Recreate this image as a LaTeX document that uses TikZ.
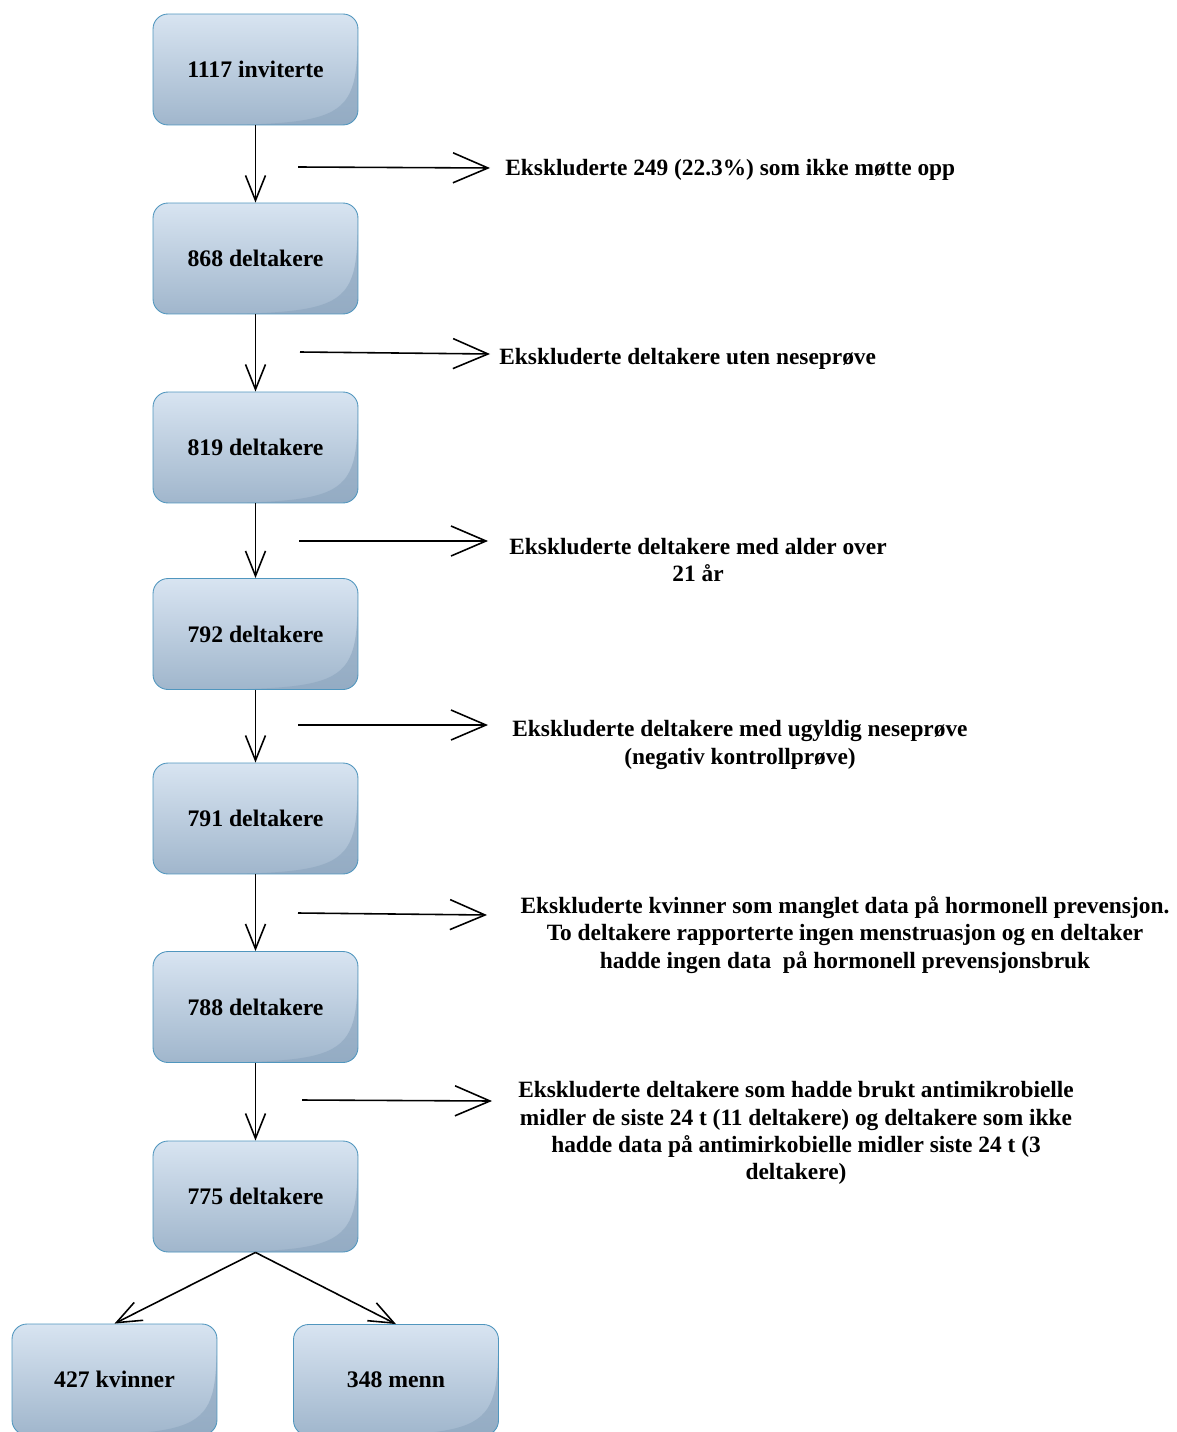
\documentclass[tikz,border=0pt]{standalone}
\usepackage{fontspec}
\setmainfont{Liberation Serif}
\usetikzlibrary{arrows.meta,calc}

\definecolor{boxtop}{RGB}{216,228,241}
\definecolor{boxbot}{RGB}{160,182,204}
\definecolor{boxline}{RGB}{80,150,190}
\definecolor{boxshade}{RGB}{140,165,190}

\tikzset{
  stage/.style={rounded corners=0.3cm, minimum width=4.1cm, minimum height=2.22cm,
    draw=boxline, line width=0.5pt, top color=boxtop, bottom color=boxbot,
    font=\fontsize{13.5}{15.5}\selectfont\bfseries,
    path picture={
      \fill[white, opacity=0.75, sharp corners]
        ($(path picture bounding box.north west)+(0.12,-0.4)$)
        .. controls ($(path picture bounding box.north west)+(0.12,-0.12)$) .. ($(path picture bounding box.north west)+(0.4,-0.12)$)
        -- ($(path picture bounding box.north west)+(1.5,-0.12)$)
        .. controls ($(path picture bounding box.north west)+(0.3,-0.2)$) .. ($(path picture bounding box.north west)+(0.12,-0.95)$) -- cycle;
      \fill[boxshade, opacity=0.6, sharp corners]
        ($(path picture bounding box.north east)+(-0.2,-0.65)$)
        .. controls ($(path picture bounding box.south east)+(-0.3,0.25)$) .. ($(path picture bounding box.south west)+(1.5,0.18)$)
        -- ($(path picture bounding box.south east)+(-0.45,0.18)$)
        .. controls ($(path picture bounding box.south east)+(-0.2,0.18)$) .. ($(path picture bounding box.south east)+(-0.2,0.45)$) -- cycle;
    }},
  note/.style={font=\fontsize{13.3}{15.5}\selectfont\bfseries, align=center, inner sep=0pt},
  down/.style={-{Straight Barb[length=0.5cm,width=0.4cm]}, line width=0.9pt},
  side/.style={-{Straight Barb[length=0.7cm,width=0.6cm]}, line width=0.9pt}
}

\begin{document}
\begin{tikzpicture}[x=0.02cm,y=-0.02cm]
  \useasboundingbox (0,0) rectangle (1176,1432);

  % main column
  \node[stage] (s1) at (255.5, 69.5) {1117 inviterte};
  \node[stage] (s2) at (255.5, 258.5) {868 deltakere};
  \node[stage] (s3) at (255.5, 447.5) {819 deltakere};
  \node[stage] (s4) at (255.5, 634) {792 deltakere};
  \node[stage] (s5) at (255.5, 818.5) {791 deltakere};
  \node[stage] (s6) at (255.5, 1007) {788 deltakere};
  \node[stage] (s7) at (255.5, 1196.5) {775 deltakere};
  \node[stage] (w) at (114.5, 1379.5) {427 kvinner};
  \node[stage] (m) at (396, 1380) {348 menn};

  % exclusions
  \node[note, anchor=west] (e1) at (505, 170) {Ekskluderte 249 (22.3\%) som ikke møtte opp};
  \node[note, anchor=west] (e2) at (499, 359) {Ekskluderte deltakere uten neseprøve};
  \node[note] (e3) at (698, 560) {Ekskluderte deltakere med alder over\\21 år};
  \node[note] (e4) at (740, 745) {Ekskluderte deltakere med ugyldig neseprøve\\(negativ kontrollprøve)};
  \node[note] (e5) at (845, 935) {Ekskluderte kvinner som manglet data på hormonell prevensjon.\\To deltakere rapporterte ingen menstruasjon og en deltaker\\hadde ingen data\ \ på hormonell prevensjonsbruk};
  \node[note] (e6) at (796, 1133) {Ekskluderte deltakere som hadde brukt antimikrobielle\\midler de siste 24 t (11 deltakere) og deltakere som ikke\\hadde data på antimirkobielle midler siste 24 t (3\\deltakere)};

  \coordinate (a1) at (298, 167);  \coordinate (b1) at (490, 168);
  \coordinate (a2) at (300, 352);  \coordinate (b2) at (490, 354);
  \coordinate (a3) at (299, 541);  \coordinate (b3) at (488, 541);
  \coordinate (a4) at (298, 725);  \coordinate (b4) at (488, 725);
  \coordinate (a5) at (298, 913);  \coordinate (b5) at (487, 915);
  \coordinate (a6) at (302, 1100); \coordinate (b6) at (492, 1101);

  \path[down] (s1) edge (s2);
  \path[down] (s2) edge (s3);
  \path[down] (s3) edge (s4);
  \path[down] (s4) edge (s5);
  \path[down] (s5) edge (s6);
  \path[down] (s6) edge (s7);
  \path[down] (s7.south) edge (w.north);
  \path[down] (s7.south) edge (m.north);

  \path[side] (a1) edge (b1);
  \path[side] (a2) edge (b2);
  \path[side] (a3) edge (b3);
  \path[side] (a4) edge (b4);
  \path[side] (a5) edge (b5);
  \path[side] (a6) edge (b6);
\end{tikzpicture}
\end{document}
